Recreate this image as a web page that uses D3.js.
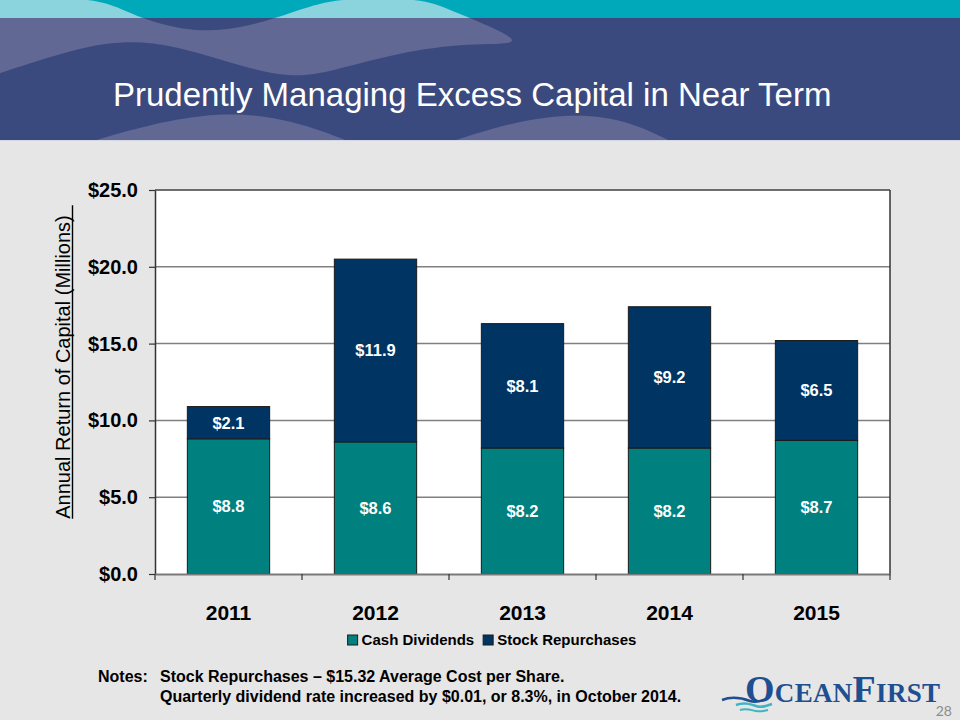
<!DOCTYPE html>
<html>
<head>
<meta charset="utf-8">
<script src="https://cdn.jsdelivr.net/npm/d3@7"></script>
<style>
  html, body { margin: 0; padding: 0; background: #e6e6e6; }
  svg { display: block; font-family: "Liberation Sans", Arial, sans-serif; }
</style>
</head>
<body>
<svg id="chart" width="960" height="720"></svg>
<script>
// ---- Data ----
const years = ["2011", "2012", "2013", "2014", "2015"];
const cashDividends = [8.8, 8.6, 8.2, 8.2, 8.7];
const stockRepurchases = [2.1, 11.9, 8.1, 9.2, 6.5];
const seriesNames = ["Cash Dividends", "Stock Repurchases"];
const seriesColors = ["#00807f", "#003462"];
const yTicks = [0, 5, 10, 15, 20, 25];
const titleText = "Prudently Managing Excess Capital in Near Term";
const yAxisTitle = "Annual Return of Capital (Millions)";
const noteLines = [
  "Stock Repurchases \u2013 $15.32 Average Cost per Share.",
  "Quarterly dividend rate increased by $0.01, or 8.3%, in October 2014."
];

const svg = d3.select("#chart");
const W = 960, H = 720;
const SANS = "'Liberation Sans', Arial, sans-serif";

// ---- Background & header ----
svg.append("rect").attr("width", W).attr("height", H).attr("fill", "#e6e6e6");
svg.append("rect").attr("x", 0).attr("y", 0).attr("width", W).attr("height", 18).attr("fill", "#00a9b9");
svg.append("rect").attr("x", 0).attr("y", 18).attr("width", W).attr("height", 122).attr("fill", "#3b4a7e");

const defs = svg.append("defs");
defs.append("clipPath").attr("id", "clipTop").append("rect").attr("x", 0).attr("y", 0).attr("width", W).attr("height", 18);
defs.append("clipPath").attr("id", "clipBand").append("rect").attr("x", 0).attr("y", 18).attr("width", W).attr("height", 122);

const smooth = d3.line().curve(d3.curveBasis);
const upperWave = [
  [-5, -5], [92, -2], [120, 8], [150, 22], [200, 33], [245, 27], [276, 18], [310, 6], [343, -2],
  [422, -2], [450, 10], [490, 26], [527, 45],
  [470, 43], [400, 52], [330, 72], [290, 78], [240, 66], [175, 45], [122, 40], [70, 50], [0, 73], [-5, 75]
];
const upperPath = smooth(upperWave) + "Z";
svg.append("path").attr("d", upperPath).attr("fill", "#8bd3dd").attr("clip-path", "url(#clipTop)");
svg.append("path").attr("d", upperPath).attr("fill", "#626894").attr("clip-path", "url(#clipBand)");

const lowerWaves = [
  [[90, 142], [150, 124], [220, 112], [275, 117], [320, 130], [350, 142]],
  [[450, 142], [515, 121], [578, 113], [630, 121], [672, 142]]
];
lowerWaves.forEach(pts => {
  svg.append("path").attr("d", smooth(pts) + "Z").attr("fill", "#626894").attr("clip-path", "url(#clipBand)");
});
svg.append("line").attr("x1", 0).attr("x2", W).attr("y1", 140.5).attr("y2", 140.5)
  .attr("stroke", "#d4d8e4").attr("stroke-width", 1);

svg.append("text").attr("x", 113).attr("y", 106).style("font-family", SANS)
  .attr("fill", "#ffffff").attr("font-size", 33).text(titleText);

// ---- Chart ----
const plot = { left: 155, right: 890, top: 190, bottom: 574 };
const x = d3.scaleBand().domain(years).range([plot.left, plot.right]).paddingInner(0.44).paddingOuter(0.22);
const y = d3.scaleLinear().domain([0, 25]).range([plot.bottom, plot.top]);

svg.append("rect").attr("x", plot.left).attr("y", plot.top)
  .attr("width", plot.right - plot.left).attr("height", plot.bottom - plot.top)
  .attr("fill", "#ffffff");

// gridlines
svg.append("g").selectAll("line").data(yTicks.filter(d => d > 0 && d < 25)).join("line")
  .attr("x1", plot.left).attr("x2", plot.right)
  .attr("y1", d => y(d)).attr("y2", d => y(d))
  .attr("stroke", "#808080").attr("stroke-width", 1.5);

// border top/right
svg.append("line").attr("x1", plot.left).attr("x2", plot.right).attr("y1", y(25)).attr("y2", y(25))
  .attr("stroke", "#404040").attr("stroke-width", 1.5);
svg.append("line").attr("x1", plot.right).attr("x2", plot.right).attr("y1", plot.top).attr("y2", plot.bottom)
  .attr("stroke", "#333333").attr("stroke-width", 1.5);

// stacked bars
const table = years.map((yr, i) => ({ year: yr, "Cash Dividends": cashDividends[i], "Stock Repurchases": stockRepurchases[i] }));
const stacked = d3.stack().keys(seriesNames)(table);

const layers = svg.append("g").selectAll("g").data(stacked).join("g")
  .attr("fill", (d, i) => seriesColors[i]);
layers.selectAll("rect").data(d => d).join("rect")
  .attr("x", d => x(d.data.year))
  .attr("y", d => y(d[1]))
  .attr("width", x.bandwidth())
  .attr("height", d => y(d[0]) - y(d[1]))
  .attr("stroke", "#1a1a1a").attr("stroke-width", 1);

// value labels
const labelG = svg.append("g");
stacked.forEach(layer => {
  layer.forEach(d => {
    labelG.append("text")
      .attr("x", x(d.data.year) + x.bandwidth() / 2)
      .attr("y", (y(d[0]) + y(d[1])) / 2)
      .attr("dy", "0.36em")
      .attr("text-anchor", "middle")
      .attr("fill", "#ffffff").attr("font-weight", "bold").attr("font-size", 16.5)
      .text("$" + (d[1] - d[0]).toFixed(1));
  });
});

// y axis
const yAxis = svg.append("g").attr("transform", `translate(${plot.left},0)`)
  .call(d3.axisLeft(y).tickValues(yTicks).tickFormat(d => "$" + d.toFixed(1)).tickSize(6).tickPadding(11).tickSizeOuter(0));
yAxis.select(".domain").attr("stroke", "#333333").attr("stroke-width", 1.5);
yAxis.selectAll(".tick line").attr("stroke", "#333333").attr("stroke-width", 1.2);
yAxis.attr("font-family", SANS);
yAxis.selectAll(".tick text").attr("font-size", 20).attr("font-weight", "bold").attr("fill", "#000");

// x axis
const xAxis = svg.append("g").attr("transform", `translate(0,${plot.bottom})`)
  .call(d3.axisBottom(x).tickSize(0).tickPadding(31));
xAxis.attr("font-family", SANS);
xAxis.select(".domain").attr("stroke", "#7a7a7a").attr("stroke-width", 2);
xAxis.selectAll(".tick text").attr("font-size", 21).attr("font-weight", "bold").attr("fill", "#000");
const boundaries = years.map(d => x(d) - x.step() * x.paddingInner() / 2 - (d === years[0] ? x.step() * (x.paddingOuter() - x.paddingInner() / 2) : 0));
boundaries.push(plot.right);
svg.append("g").selectAll("line").data(boundaries).join("line")
  .attr("x1", d => d).attr("x2", d => d)
  .attr("y1", plot.bottom).attr("y2", plot.bottom + 6)
  .attr("stroke", "#333333").attr("stroke-width", 1.2);

// y axis title (underlined)
const ytCenter = (214 + 520) / 2;
const yt = svg.append("text")
  .attr("transform", `translate(70,${ytCenter}) rotate(-90)`)
  .attr("text-anchor", "middle")
  .attr("font-size", 20).attr("fill", "#000")
  .style("font-family", SANS)
  .text(yAxisTitle);
const ytLen = yt.node().getComputedTextLength();
svg.append("line")
  .attr("x1", 72.5).attr("x2", 72.5)
  .attr("y1", ytCenter + ytLen / 2).attr("y2", ytCenter - ytLen / 2 - 10)
  .attr("stroke", "#000").attr("stroke-width", 1.4);

// legend
const legend = svg.append("g");
let lx = 0;
seriesNames.forEach((name, i) => {
  const g = legend.append("g");
  g.append("rect").attr("x", 0).attr("y", -5).attr("width", 10).attr("height", 10)
    .attr("fill", seriesColors[i]).attr("stroke", "#1a1a1a").attr("stroke-width", 1);
  const t = g.append("text").attr("x", 14).attr("y", 0).attr("dy", "0.36em")
    .attr("font-size", 15).attr("font-weight", "bold").attr("fill", "#000").text(name);
  const w = 14 + t.node().getComputedTextLength();
  g.attr("transform", `translate(${lx},0)`);
  lx += w + 9;
});
const legendW = lx - 9;
legend.attr("transform", `translate(${492 - legendW / 2},640)`);

// notes
svg.append("text").attr("x", 98).attr("y", 682).attr("font-size", 16).attr("font-weight", "bold").attr("fill", "#000").text("Notes:");
noteLines.forEach((line, i) => {
  svg.append("text").attr("x", 160).attr("y", 682 + i * 20)
    .attr("font-size", 16).attr("font-weight", "bold").attr("fill", "#000").text(line);
});

// logo
const logo = svg.append("g");
logo.append("path").attr("d", "M722,700 C732,696 742,698 750,701 C756,703 762,701 768,698")
  .attr("fill", "none").attr("stroke", "#1d4f91").attr("stroke-width", 2.5);
logo.append("path").attr("d", "M736,705 C744,702 750,704 756,706 C762,708 766,706 772,704")
  .attr("fill", "none").attr("stroke", "#3fb4c4").attr("stroke-width", 2.5);
logo.append("path").attr("d", "M740,710 C746,708 751,710 756,711 C761,712 764,711 768,710")
  .attr("fill", "none").attr("stroke", "#3fb4c4").attr("stroke-width", 2);
const lt = logo.append("text").attr("x", 745).attr("y", 702)
  .style("font-family", "'Liberation Serif', 'DejaVu Serif', serif").attr("font-weight", "bold")
  .attr("fill", "#1d4f91").attr("letter-spacing", 0.3);
lt.append("tspan").attr("font-size", 38).text("O");
lt.append("tspan").attr("font-size", 27).text("CEAN");
lt.append("tspan").attr("font-size", 38).text("F");
lt.append("tspan").attr("font-size", 27).text("IRST");

svg.append("text").attr("x", 952).attr("y", 716).attr("text-anchor", "end")
  .style("font-family", "Lato, 'Open Sans', sans-serif").attr("font-size", 14).attr("fill", "#8c8c8c").text("28");
</script>
</body>
</html>
